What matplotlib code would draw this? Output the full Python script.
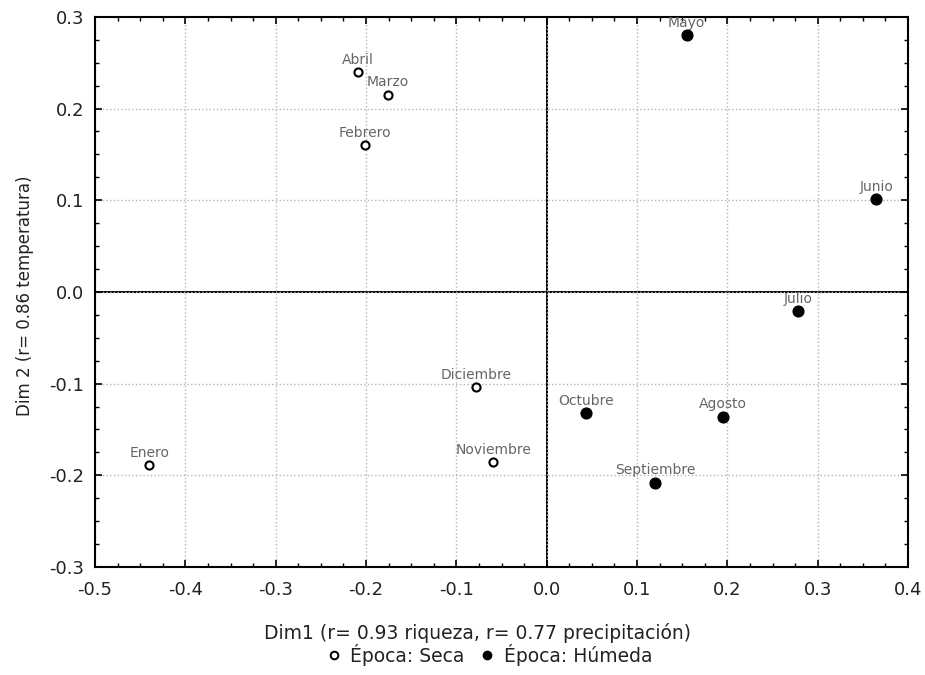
import matplotlib.pyplot as plt
from matplotlib.ticker import MultipleLocator
from matplotlib.lines import Line2D

plt.rcParams['font.family'] = ['DejaVu Sans']

# meses, coordenadas (Dim1, Dim2) y epoca
meses_seca = ['Enero', 'Febrero', 'Marzo', 'Abril', 'Noviembre', 'Diciembre']
dim1_seca = [-0.44, -0.201, -0.176, -0.209, -0.059, -0.078]
dim2_seca = [-0.189, 0.160, 0.215, 0.240, -0.186, -0.104]

meses_hum = ['Mayo', 'Junio', 'Julio', 'Agosto', 'Septiembre', 'Octubre']
dim1_hum = [0.155, 0.365, 0.278, 0.195, 0.120, 0.044]
dim2_hum = [0.280, 0.101, -0.021, -0.136, -0.208, -0.132]

xticks = [-0.5, -0.4, -0.3, -0.2, -0.1, 0.0, 0.1, 0.2, 0.3, 0.4]
yticks = [-0.3, -0.2, -0.1, 0.0, 0.1, 0.2, 0.3]

fig = plt.figure(figsize=(9.25, 6.75), dpi=100)
ax = fig.add_axes([0.1027, 0.16, 0.879, 0.815])

ax.axhline(0, color='black', lw=1.4, zorder=1)
ax.axvline(0, color='black', lw=1.4, zorder=1)

ax.scatter(dim1_seca, dim2_seca, s=34, facecolor='white', edgecolor='black',
           linewidths=1.5, zorder=3)
ax.scatter(dim1_hum, dim2_hum, s=60, facecolor='black', edgecolor='black', zorder=3)

for nombres, xs, ys in [(meses_seca, dim1_seca, dim2_seca), (meses_hum, dim1_hum, dim2_hum)]:
    for n, x, y in zip(nombres, xs, ys):
        ax.annotate(n, (x, y), xytext=(0, 6), textcoords='offset points',
                    ha='center', va='baseline', fontsize=10, color='#666666',
                    clip_on=True)

ax.set_xlim(-0.5, 0.4)
ax.set_ylim(-0.3, 0.3)
ax.set_xticks(xticks)
ax.set_xticklabels([f'{v:.1f}' for v in xticks])
ax.set_yticks(yticks)
ax.set_yticklabels([f'{v:.1f}' for v in yticks])
ax.xaxis.set_minor_locator(MultipleLocator(0.025))
ax.yaxis.set_minor_locator(MultipleLocator(0.025))
ax.tick_params(which='both', direction='in', top=True, right=True, labelsize=13,
               colors='black', labelcolor='#222222')
ax.tick_params(which='major', length=5, width=1.2)
ax.tick_params(which='minor', length=3, width=1.0)
ax.tick_params(axis='y', which='major', pad=8)
ax.tick_params(axis='x', which='major', pad=10)
ax.grid(True, which='major', linestyle=':', color='#b5b5b5', lw=1.0)
for sp in ax.spines.values():
    sp.set_linewidth(1.5)

ax.set_xlabel('Dim1 (r= 0.93 riqueza, r= 0.77 precipitación)', fontsize=13.5, color='#222222')
ax.xaxis.set_label_coords(0.47, -0.102)
ax.set_ylabel('Dim 2 (r= 0.86 temperatura)', fontsize=12, color='#222222')
ax.yaxis.set_label_coords(-0.075, 0.493)

handles = [Line2D([], [], ls='none', marker='o', ms=5.5, mfc='white', mec='black', mew=1.4),
           Line2D([], [], ls='none', marker='o', ms=6, mfc='black', mec='black')]
fig.legend(handles, ['Época: Seca', 'Época: Húmeda'], loc='center',
           bbox_to_anchor=(0.527, 0.03), ncol=2, frameon=False, fontsize=13.5,
           handletextpad=0.3, columnspacing=0.6, handlelength=1.2, labelcolor='#222222')

fig.savefig('out.png', dpi=100)
